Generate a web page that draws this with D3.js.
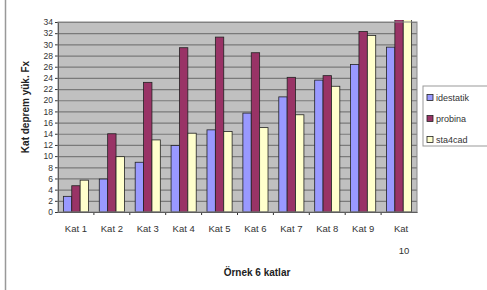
<!DOCTYPE html>
<html>
<head>
<meta charset="utf-8">
<script src="https://cdn.jsdelivr.net/npm/d3@7"></script>
<style>
  body { margin: 0; background: #fff; }
  text { font-family: "Liberation Sans", Arial, sans-serif; }
</style>
</head>
<body>
<div id="chart"></div>
<script>
var categories = ["Kat 1", "Kat 2", "Kat 3", "Kat 4", "Kat 5", "Kat 6", "Kat 7", "Kat 8", "Kat 9", "Kat 10"];
var seriesNames = ["idestatik", "probina", "sta4cad"];
var idestatik = [2.8, 5.9, 8.9, 11.9, 14.7, 17.7, 20.6, 23.6, 26.4, 29.5];
var probina = [4.7, 14.0, 23.2, 29.4, 31.3, 28.5, 24.1, 24.4, 32.3, 35.5];
var sta4cad = [5.7, 9.9, 12.9, 14.1, 14.4, 15.1, 17.4, 22.5, 31.6, 35.0];
var yTicks = d3.range(0, 35, 2);
var colors = ["#9999ff", "#993366", "#ffffcc"];

var svgWidth = 487, svgHeight = 290;
var margin = {top: 22, left: 58, right: 70, bottom: 78};
var width = svgWidth - margin.left - margin.right;
var height = svgHeight - margin.top - margin.bottom;

var svg = d3.select("#chart").append("svg")
  .attr("width", svgWidth)
  .attr("height", svgHeight);

// frame line at left
svg.append("line")
  .attr("x1", 5.5).attr("x2", 5.5)
  .attr("y1", 0).attr("y2", svgHeight)
  .attr("stroke", "#999").attr("stroke-width", 1.5);

var chartGroup = svg.append("g")
  .attr("transform", `translate(${margin.left}, ${margin.top})`);

var x0 = d3.scaleBand().domain(categories).range([0, width]).paddingInner(0.3).paddingOuter(0.15);
var xCat = d3.scaleBand().domain(categories).range([0, width]);
var x1 = d3.scaleBand().domain(seriesNames).range([0, x0.bandwidth()]);
var y = d3.scaleLinear().domain([0, 34]).range([height, 0]);

chartGroup.append("rect")
  .attr("width", width).attr("height", height)
  .attr("fill", "#c0c0c0");

chartGroup.append("clipPath").attr("id", "plotclip")
  .append("rect").attr("y", -2).attr("width", width).attr("height", height + 2);

// gridlines
chartGroup.selectAll(".grid")
  .data(yTicks.slice(1))
  .enter().append("line")
  .attr("x1", 0).attr("x2", width)
  .attr("y1", d => y(d) + 0.5).attr("y2", d => y(d) + 0.5)
  .attr("stroke", "#7a7a7a").attr("stroke-width", 1.2);

var table = categories.map((c, i) => ({cat: c, vals: [idestatik[i], probina[i], sta4cad[i]]}));

var bars = chartGroup.append("g").attr("clip-path", "url(#plotclip)");
bars.selectAll("g")
  .data(table)
  .enter().append("g")
  .attr("transform", d => `translate(${x0(d.cat)},0)`)
  .selectAll("rect")
  .data(d => d.vals.map((v, j) => ({name: seriesNames[j], v: v, j: j})))
  .enter().append("rect")
  .attr("x", d => x1(d.name))
  .attr("width", x1.bandwidth())
  .attr("y", d => y(d.v))
  .attr("height", d => y(0) - y(d.v))
  .attr("fill", d => colors[d.j])
  .attr("stroke", "#222").attr("stroke-width", 0.8);

// axes
var leftAxis = d3.axisLeft(y).tickValues(yTicks).tickSize(3).tickPadding(2);
var gy = chartGroup.append("g").call(leftAxis);
gy.select(".domain").attr("stroke", "#333");
gy.selectAll("line").attr("stroke", "#333");
gy.selectAll("text").attr("font-size", "8.5px").attr("fill", "#333");

var bottomAxis = d3.axisBottom(xCat).tickSize(0).tickPadding(13);
var gx = chartGroup.append("g")
  .attr("transform", `translate(0, ${height})`)
  .call(bottomAxis);
gx.select(".domain").attr("stroke", "#333");
gx.selectAll("text").attr("font-size", "9.5px").attr("fill", "#333")
  .each(function(d) {
    if (d === "Kat 10") {
      var t = d3.select(this).text("");
      t.append("tspan").attr("x", 2).attr("dy", "0.71em").text("Kat");
      t.append("tspan").attr("x", 5).attr("dy", "2.3em").text("10");
    }
  });
gx.selectAll(".cat-tick")
  .data(categories.slice(1))
  .enter().append("line")
  .attr("x1", d => xCat(d)).attr("x2", d => xCat(d))
  .attr("y1", 0).attr("y2", 3)
  .attr("stroke", "#333");

chartGroup.append("rect")
  .attr("width", width).attr("height", height)
  .attr("fill", "none").attr("stroke", "#888");

// axis titles
chartGroup.append("text")
  .attr("transform", "rotate(-90)")
  .attr("x", -85).attr("y", -29)
  .attr("text-anchor", "middle")
  .attr("font-size", "10px").attr("font-weight", "bold").attr("fill", "#222")
  .text("Kat deprem yük. Fx");

chartGroup.append("text")
  .attr("x", 199).attr("y", 254)
  .attr("text-anchor", "middle")
  .attr("font-size", "10px").attr("font-weight", "bold").attr("fill", "#222")
  .text("Örnek 6 katlar");

// legend
var legend = svg.append("g").attr("transform", "translate(423, 86)");
legend.append("rect")
  .attr("width", 70).attr("height", 60)
  .attr("fill", "#fff").attr("stroke", "#999");
var items = legend.selectAll(".item")
  .data(seriesNames)
  .enter().append("g")
  .attr("transform", (d, i) => `translate(4, ${12 + i * 21})`);
items.append("rect")
  .attr("y", -3.5).attr("width", 6).attr("height", 6)
  .attr("fill", (d, i) => colors[i]).attr("stroke", "#222").attr("stroke-width", 0.8);
items.append("text")
  .attr("x", 9).attr("y", 3)
  .attr("font-size", "9px").attr("fill", "#333")
  .text(d => d);
</script>
</body>
</html>
